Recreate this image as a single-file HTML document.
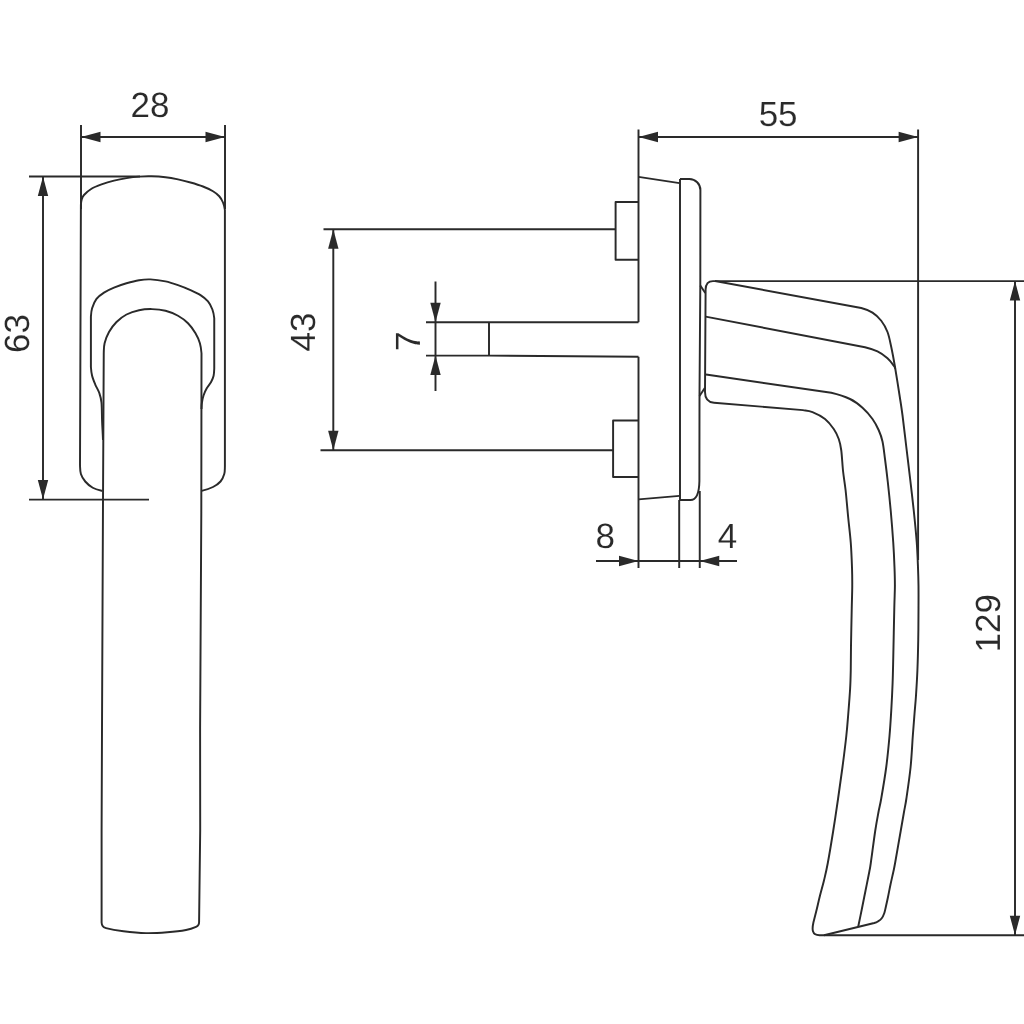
<!DOCTYPE html>
<html><head><meta charset="utf-8"><title>Handle drawing</title>
<style>
html,body{margin:0;padding:0;background:#fff;}
body{width:1024px;height:1024px;overflow:hidden;}
svg{display:block;will-change:transform;}
.ln path{fill:none;stroke:#2a2a2a;stroke-width:1.95;stroke-linecap:butt;stroke-linejoin:round;}
.ar path{fill:#2a2a2a;stroke:none;}
.tx text{font-family:"Liberation Sans",sans-serif;font-size:35px;fill:#2a2a2a;stroke:#fff;stroke-width:0.12px;text-rendering:geometricPrecision;}
</style></head><body>
<svg width="1024" height="1024" viewBox="0 0 1024 1024">
<rect width="1024" height="1024" fill="#fff"/>
<g class="ln">
<path d="M81.00,125.00 L81.00,209.00"/>
<path d="M225.00,125.00 L225.00,209.00"/>
<path d="M81.00,137.00 L225.00,137.00"/>
<path d="M29.00,176.50 L140.00,176.50"/>
<path d="M29.00,499.60 L149.00,499.60"/>
<path d="M43.00,176.50 L43.00,499.60"/>
<path d="M102.40,490.90 C99.19,490.11 95.61,489.32 92.75,487.75 C89.89,486.18 87.22,483.79 85.25,481.50 C83.28,479.21 81.78,476.75 80.90,474.00 C80.03,471.25 80.15,468.17 80.00,465.00 L80.9,205 C81.03,202.42 81.18,201.17 81.70,199.50 C82.22,197.83 82.37,196.79 84.00,195.00 C85.63,193.21 88.58,190.52 91.50,188.75 C94.42,186.98 97.75,185.76 101.50,184.40 C105.25,183.04 109.83,181.65 114.00,180.60 C118.17,179.55 122.33,178.77 126.50,178.10 C130.67,177.43 134.83,176.90 139.00,176.60 C143.17,176.30 147.08,176.19 151.50,176.30 C155.92,176.41 161.08,176.73 165.50,177.25 C169.92,177.77 173.83,178.53 178.00,179.40 C182.17,180.28 186.33,181.32 190.50,182.50 C194.67,183.68 199.25,185.04 203.00,186.50 C206.75,187.96 210.29,189.62 213.00,191.25 C215.71,192.88 217.58,194.38 219.25,196.25 C220.92,198.12 222.06,200.21 223.00,202.50 C223.94,204.79 224.58,207.08 224.90,210.00 L224.9,466.5 C224.79,469.50 224.98,471.50 224.25,474.00 C223.52,476.50 222.38,479.33 220.50,481.50 C218.62,483.67 216.15,485.43 213.00,487.00 C209.85,488.57 205.27,489.98 201.60,490.90"/>
<path d="M103.00,440.00 C102.80,434.42 102.35,427.71 102.10,421.50 C101.85,415.29 101.97,407.50 101.50,402.75 C101.03,398.00 100.34,396.04 99.30,393.00 C98.26,389.96 96.45,387.38 95.25,384.50 C94.05,381.62 92.82,378.67 92.10,375.75 C91.38,372.83 91.10,370.12 90.90,367.00 L90.9,317 C91.10,313.88 91.17,311.27 92.10,308.25 C93.03,305.23 94.52,301.51 96.50,298.90 C98.48,296.29 101.08,294.48 104.00,292.60 C106.92,290.72 110.25,289.16 114.00,287.60 C117.75,286.04 122.33,284.48 126.50,283.25 C130.67,282.02 135.02,280.84 139.00,280.20 C142.98,279.56 145.98,279.20 150.40,279.40 C154.82,279.60 160.90,280.45 165.50,281.40 C170.10,282.35 173.83,283.65 178.00,285.10 C182.17,286.55 186.75,288.43 190.50,290.10 C194.25,291.77 197.58,293.22 200.50,295.10 C203.42,296.98 206.02,299.00 208.00,301.40 C209.98,303.80 211.36,306.69 212.40,309.50 C213.44,312.31 213.94,315.17 214.25,318.25 L214.25,368.25 C214.14,371.21 214.12,373.46 213.60,375.75 C213.07,378.04 212.24,379.92 211.10,382.00 C209.96,384.08 208.00,386.04 206.75,388.25 C205.50,390.46 204.41,392.83 203.60,395.25 C202.79,397.67 202.25,400.46 201.90,402.75 C201.55,405.04 201.57,406.79 201.50,409.00"/>
<path d="M101.6,922.5 L101.6,830 L102,728 L103,500 L103.75,353.25 C103.89,349.96 103.72,346.79 104.60,343.25 C105.47,339.71 107.02,335.54 109.00,332.00 C110.98,328.46 113.58,324.92 116.50,322.00 C119.42,319.08 122.75,316.47 126.50,314.50 C130.25,312.53 134.75,311.10 139.00,310.20 C143.25,309.30 147.58,309.01 152.00,309.10 C156.42,309.19 161.17,309.64 165.50,310.75 C169.83,311.86 174.25,313.67 178.00,315.75 C181.75,317.83 185.08,320.33 188.00,323.25 C190.92,326.17 193.52,329.92 195.50,333.25 C197.48,336.58 198.90,339.92 199.90,343.25 C200.90,346.58 201.23,349.96 201.50,353.25 L201.3,512 L200.1,728 L200.2,830 L199.1,921.25 C199.02,923.50 199.12,923.56 198.60,924.50 C198.08,925.44 198.10,925.98 196.00,926.90 C193.90,927.82 190.79,929.11 186.00,930.00 C181.21,930.89 173.92,931.73 167.25,932.25 C160.58,932.77 153.29,933.27 146.00,933.10 C138.71,932.93 130.17,932.08 123.50,931.25 C116.83,930.42 109.48,929.01 106.00,928.10 C102.52,927.19 103.33,926.73 102.60,925.80 C101.87,924.87 101.77,924.80 101.60,922.50 Z"/>
<path d="M323.50,229.20 L615.60,229.20"/>
<path d="M320.50,450.25 L613.10,450.25"/>
<path d="M333.30,229.20 L333.30,450.25"/>
<path d="M638.5,202 L615.6,202 L615.6,259.7 L638.5,259.7"/>
<path d="M638.5,420.4 L613.1,420.4 L613.1,476.9 L638.5,476.9"/>
<path d="M638.50,129.50 L638.50,322.20"/>
<path d="M638.50,356.80 L638.50,568.00"/>
<path d="M426.00,322.20 L638.50,322.20"/>
<path d="M426,355.6 L489,355.6 L638.5,356.8"/>
<path d="M489.00,322.20 L489.00,355.60"/>
<path d="M435.50,281.50 L435.50,391.00"/>
<path d="M638.50,176.90 L679.50,183.10"/>
<path d="M638.50,499.40 L679.50,495.90"/>
<path d="M680.00,179.00 L680.00,500.00"/>
<path d="M679.20,500.00 L679.20,568.00"/>
<path d="M680,179 L689.4,179 A11,11 0 0 1 700.4,190 L700.3,285.5 L699.5,396 L699.4,481 C699.2,492 697,500 690.5,500 L680,500"/>
<path d="M699.75,491.00 L699.75,568.00"/>
<path d="M596.00,561.00 L737.00,561.00"/>
<path d="M700.30,285.50 L705.30,293.00"/>
<path d="M699.50,396.00 L704.80,388.00"/>
<path d="M1024,281.1 L713,281.1 Q705.8,281.1 705.6,289.5 L705,392 Q705,402 714,402.7"/>
<path d="M714,402.7 L803,410.15 C808.42,410.80 808.83,410.62 812.50,412.10 C816.17,413.58 821.46,416.18 825.00,419.00 C828.54,421.82 831.46,425.67 833.75,429.00 C836.04,432.33 837.50,435.46 838.75,439.00 C840.00,442.54 840.52,444.83 841.25,450.25 C841.98,455.67 842.38,464.83 843.10,471.50 C843.83,478.17 844.75,482.58 845.60,490.25 C846.45,497.92 847.34,508.79 848.20,517.50 C849.06,526.21 850.12,534.17 850.75,542.50 C851.38,550.83 851.75,560.25 852.00,567.50 C852.25,574.75 852.29,579.25 852.25,586.00 C852.21,592.75 851.96,598.08 851.75,608.00 C851.54,617.92 851.17,635.08 851.00,645.50 C850.83,655.92 850.90,663.25 850.75,670.50 C850.60,677.75 850.52,681.75 850.10,689.00 C849.68,696.25 848.88,706.17 848.25,714.00 C847.62,721.83 847.26,727.17 846.30,736.00 C845.34,744.83 843.87,756.58 842.50,767.00 C841.13,777.42 839.65,787.83 838.10,798.50 C836.55,809.17 834.92,820.25 833.20,831.00 C831.48,841.75 829.32,854.83 827.80,863.00 C826.28,871.17 825.40,874.57 824.10,880.00 C822.80,885.43 821.31,890.39 820.00,895.60 C818.69,900.81 817.35,906.77 816.25,911.25 C815.15,915.73 814.17,919.38 813.40,922.50 C812,929 811.6,935.3 819.5,935.3 L1024,935.3"/>
<path d="M706,374.5 L831.25,392.75 C837.92,394.31 844.79,396.50 850.00,399.00 C855.21,401.50 858.75,404.42 862.50,407.75 C866.25,411.08 869.79,415.25 872.50,419.00 C875.21,422.75 877.08,426.50 878.75,430.25 C880.42,434.00 881.46,436.71 882.50,441.50 C883.54,446.29 884.12,452.25 885.00,459.00 C885.88,465.75 886.84,473.33 887.80,482.00 C888.76,490.67 889.84,500.92 890.75,511.00 C891.66,521.08 892.62,533.08 893.25,542.50 C893.88,551.92 894.23,560.25 894.50,567.50 C894.77,574.75 894.93,579.25 894.90,586.00 C894.87,592.75 894.57,596.00 894.30,608.00 C894.02,620.00 893.53,645.50 893.25,658.00 C892.97,670.50 892.91,674.67 892.60,683.00 C892.29,691.33 891.92,699.17 891.40,708.00 C890.88,716.83 890.36,726.17 889.50,736.00 C888.64,745.83 887.62,756.58 886.25,767.00 C884.88,777.42 882.54,791.00 881.25,798.50 C879.96,806.00 879.51,806.58 878.50,812.00 C877.49,817.42 876.48,822.50 875.20,831.00 C873.92,839.50 871.79,856.17 870.80,863.00 C869.81,869.83 870.13,867.38 869.25,872.00 C868.37,876.62 866.75,884.50 865.50,890.75 C864.25,897.00 862.97,903.51 861.75,909.50 C860.53,915.49 858.79,923.83 858.20,926.70"/>
<path d="M705.6,316.6 L865,347.25 C870.42,348.58 873.75,349.57 877.50,351.40 C881.25,353.23 884.79,355.86 887.50,358.25 C890.21,360.64 892.45,364.02 893.75,365.75 C895.05,367.48 895.04,368.12 895.30,368.60"/>
<path d="M715,281 L861.25,308 C866.67,309.42 869.17,310.48 872.50,312.60 C875.83,314.73 878.75,317.52 881.25,320.75 C883.75,323.98 885.83,327.62 887.50,332.00 C889.17,336.38 890.00,341.17 891.25,347.00 C892.50,352.83 893.58,358.67 895.00,367.00 C896.42,375.33 898.55,388.96 899.80,397.00 C901.05,405.04 901.42,407.00 902.50,415.25 C903.58,423.50 905.00,436.08 906.25,446.50 C907.50,456.92 908.74,467.00 910.00,477.75 C911.26,488.50 912.67,500.21 913.80,511.00 C914.92,521.79 916.05,533.08 916.75,542.50 C917.45,551.92 917.71,560.25 918.00,567.50 C918.29,574.75 918.42,579.25 918.50,586.00 C918.58,592.75 918.54,599.17 918.50,608.00 C918.46,616.83 918.43,628.58 918.25,639.00 C918.07,649.42 917.77,661.08 917.40,670.50 C917.02,679.92 916.48,688.25 916.00,695.50 C915.52,702.75 915.03,707.25 914.50,714.00 C913.97,720.75 913.45,727.17 912.80,736.00 C912.15,744.83 911.67,756.58 910.60,767.00 C909.53,777.42 907.50,791.00 906.40,798.50 C905.30,806.00 904.95,806.58 904.00,812.00 C903.05,817.42 902.18,822.50 900.70,831.00 C899.22,839.50 896.33,856.17 895.10,863.00 C893.87,869.83 894.07,868.42 893.30,872.00 C892.53,875.58 891.38,880.33 890.50,884.50 C889.62,888.67 888.78,893.25 888.00,897.00 C887.22,900.75 886.42,904.29 885.80,907.00 C885.17,909.71 884.92,911.38 884.25,913.25 C883.58,915.12 882.79,916.89 881.75,918.25 C880.71,919.61 879.25,920.61 878.00,921.40 C876.75,922.19 876.58,922.33 874.25,923.00 L824,935.3"/>
<path d="M918.10,129.50 L918.10,560.00"/>
<path d="M638.50,137.00 L918.10,137.00"/>
<path d="M1015.00,281.10 L1015.00,935.30"/>
</g>
<g class="ar">
<path d="M81.00,137.00 L100.50,131.80 L100.50,142.20 Z"/>
<path d="M225.00,137.00 L205.50,142.20 L205.50,131.80 Z"/>
<path d="M43.00,176.50 L48.20,196.00 L37.80,196.00 Z"/>
<path d="M43.00,499.60 L37.80,480.10 L48.20,480.10 Z"/>
<path d="M333.30,229.20 L338.50,248.70 L328.10,248.70 Z"/>
<path d="M333.30,450.25 L328.10,430.75 L338.50,430.75 Z"/>
<path d="M435.50,322.20 L430.30,302.70 L440.70,302.70 Z"/>
<path d="M435.50,355.60 L440.70,375.10 L430.30,375.10 Z"/>
<path d="M638.50,561.00 L619.00,566.20 L619.00,555.80 Z"/>
<path d="M699.75,561.00 L719.25,555.80 L719.25,566.20 Z"/>
<path d="M638.50,137.00 L658.00,131.80 L658.00,142.20 Z"/>
<path d="M918.10,137.00 L898.60,142.20 L898.60,131.80 Z"/>
<path d="M1015.00,281.10 L1020.20,300.60 L1009.80,300.60 Z"/>
<path d="M1015.00,935.30 L1009.80,915.80 L1020.20,915.80 Z"/>
</g>
<g class="tx">
<text x="150.0" y="117.0" text-anchor="middle">28</text>
<text x="778.1" y="125.6" text-anchor="middle">55</text>
<text x="605.3" y="548.0" text-anchor="middle">8</text>
<text x="727.5" y="548.0" text-anchor="middle">4</text>
<text x="0" y="0" transform="translate(29.3,333.5) rotate(-90)" text-anchor="middle">63</text>
<text x="0" y="0" transform="translate(314.5,332.0) rotate(-90)" text-anchor="middle">43</text>
<text x="0" y="0" transform="translate(419.7,341.2) rotate(-90)" text-anchor="middle">7</text>
<text x="0" y="0" transform="translate(1000.3,623.2) rotate(-90)" text-anchor="middle">129</text>
</g>
</svg>
</body></html>
